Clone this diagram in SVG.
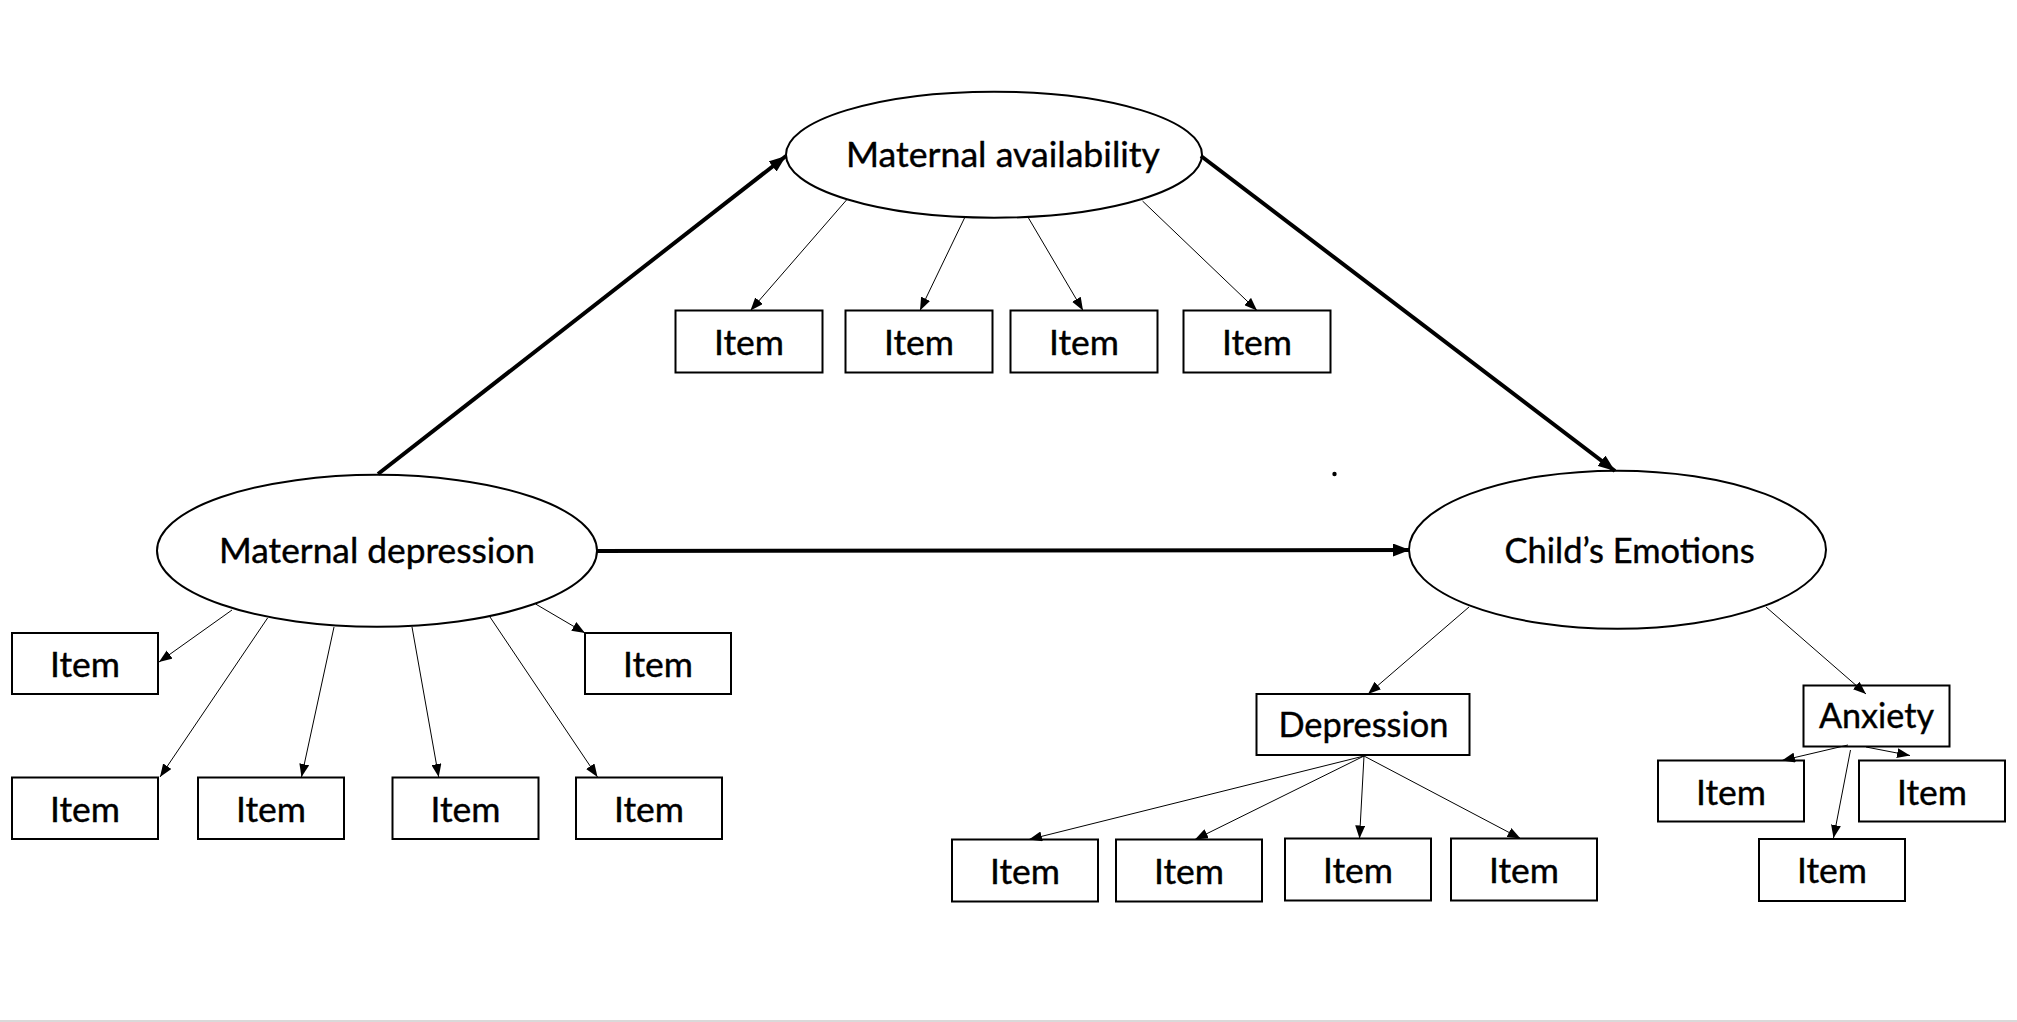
<svg xmlns="http://www.w3.org/2000/svg" width="2017" height="1022" viewBox="0 0 2017 1022">
<style>
.bg{fill:#ffffff}
.node ellipse{fill:#ffffff;stroke:#000;stroke-width:2}
.node rect{fill:#ffffff;stroke:#000;stroke-width:2}
.node text{font-family:Lato,"Liberation Sans",sans-serif;font-size:34px;fill:#000;stroke:#000;stroke-width:0.4;text-anchor:middle}
.node text.item{font-size:35.5px}
.thick{stroke:#000;stroke-width:4;fill:none;marker-end:url(#ah-thick)}
.thin{stroke:#000;stroke-width:1;fill:none;marker-end:url(#ah-thin)}
</style>
<defs>
<marker id="ah-thin" markerUnits="userSpaceOnUse" markerWidth="13" markerHeight="10" refX="13" refY="5" orient="auto">
<path d="M0,0 L13,5 L0,10 z" fill="#000"/>
</marker>
<marker id="ah-thick" markerUnits="userSpaceOnUse" markerWidth="17" markerHeight="13" refX="17" refY="6.5" orient="auto">
<path d="M0,0 L17,6.5 L0,13 z" fill="#000"/>
</marker>
</defs>
<rect class="bg" x="0" y="0" width="2017" height="1022"/>
<rect x="0" y="1020" width="2017" height="2" fill="#d9d9d9"/>
<circle cx="1334.5" cy="474" r="2.2" fill="#000"/>

<g id="maternal-availability" class="node">
<ellipse cx="994" cy="154.7" rx="208" ry="63"/>
<text x="1003" y="166.7" textLength="314" lengthAdjust="spacingAndGlyphs">Maternal availability</text>
</g>
<g id="maternal-depression" class="node">
<ellipse cx="377" cy="550.8" rx="220" ry="76"/>
<text x="377" y="563.3" textLength="316" lengthAdjust="spacingAndGlyphs">Maternal depression</text>
</g>
<g id="childs-emotions" class="node">
<ellipse cx="1617.5" cy="549.8" rx="208.5" ry="79"/>
<text x="1629.6" y="563.3" textLength="250" lengthAdjust="spacingAndGlyphs">Child’s Emotions</text>
</g>
<g id="depression" class="node">
<rect x="1256.5" y="694" width="213" height="61"/>
<text x="1363.4" y="737.3" textLength="170" lengthAdjust="spacingAndGlyphs">Depression</text>
</g>
<g id="anxiety" class="node">
<rect x="1803.5" y="685.5" width="146" height="61"/>
<text x="1876.5" y="728.3" textLength="115" lengthAdjust="spacingAndGlyphs">Anxiety</text>
</g>

<g id="ma-item-1" class="node"><rect x="675.5" y="310.5" width="147" height="62"/><text class="item" x="749" y="355">Item</text></g>
<g id="ma-item-2" class="node"><rect x="845.5" y="310.5" width="147" height="62"/><text class="item" x="919" y="355">Item</text></g>
<g id="ma-item-3" class="node"><rect x="1010.5" y="310.5" width="147" height="62"/><text class="item" x="1084" y="355">Item</text></g>
<g id="ma-item-4" class="node"><rect x="1183.5" y="310.5" width="147" height="62"/><text class="item" x="1257" y="355">Item</text></g>

<g id="md-item-1" class="node"><rect x="12" y="633" width="146" height="61"/><text class="item" x="85" y="677">Item</text></g>
<g id="md-item-2" class="node"><rect x="585" y="633" width="146" height="61"/><text class="item" x="658" y="677">Item</text></g>
<g id="md-item-3" class="node"><rect x="12" y="777.5" width="146" height="61.5"/><text class="item" x="85" y="821.5">Item</text></g>
<g id="md-item-4" class="node"><rect x="198" y="777.5" width="146" height="61.5"/><text class="item" x="271" y="821.5">Item</text></g>
<g id="md-item-5" class="node"><rect x="392.5" y="777.5" width="146" height="61.5"/><text class="item" x="465.5" y="821.5">Item</text></g>
<g id="md-item-6" class="node"><rect x="576" y="777.5" width="146" height="61.5"/><text class="item" x="649" y="821.5">Item</text></g>

<g id="dep-item-1" class="node"><rect x="952" y="839.5" width="146" height="62"/><text class="item" x="1025" y="883.5">Item</text></g>
<g id="dep-item-2" class="node"><rect x="1116" y="839.5" width="146" height="62"/><text class="item" x="1189" y="883.5">Item</text></g>
<g id="dep-item-3" class="node"><rect x="1285" y="838.5" width="146" height="62"/><text class="item" x="1358" y="882.5">Item</text></g>
<g id="dep-item-4" class="node"><rect x="1451" y="838.5" width="146" height="62"/><text class="item" x="1524" y="882.5">Item</text></g>

<g id="anx-item-1" class="node"><rect x="1658" y="760.5" width="146" height="61"/><text class="item" x="1731" y="804.5">Item</text></g>
<g id="anx-item-2" class="node"><rect x="1859" y="760.5" width="146" height="61"/><text class="item" x="1932" y="804.5">Item</text></g>
<g id="anx-item-3" class="node"><rect x="1759" y="839" width="146" height="62"/><text class="item" x="1832" y="883">Item</text></g>

<g id="connectors">
<path class="thick" d="M378 474 L786 156"/>
<path class="thick" d="M1201 156 L1615 471"/>
<path class="thick" d="M597 551 L1410 550"/>
<path class="thin" d="M846.5 200 L750.5 310.5"/>
<path class="thin" d="M964.5 218 L920 310.5"/>
<path class="thin" d="M1028.5 218 L1083 310.5"/>
<path class="thin" d="M1142.5 201 L1257 310.5"/>
<path class="thin" d="M232 610 L159 662"/>
<path class="thin" d="M267.6 618 L160 777"/>
<path class="thin" d="M334 627 L301.5 777"/>
<path class="thin" d="M412 627 L438.7 777"/>
<path class="thin" d="M490 617 L597.5 777"/>
<path class="thin" d="M535.6 604 L585 633"/>
<path class="thin" d="M1469 607 L1368 694"/>
<path class="thin" d="M1766 607 L1866 694"/>
<path class="thin" d="M1364 756 L1029 839.5"/>
<path class="thin" d="M1364 756 L1195 839.5"/>
<path class="thin" d="M1364 756 L1359.5 838.5"/>
<path class="thin" d="M1364 756 L1520.5 838.5"/>
<path class="thin" d="M1848 745 L1782 760.5"/>
<path class="thin" d="M1866 747 L1910 755.5"/>
<path class="thin" d="M1850.5 750 L1833.5 838"/>
</g>
</svg>
